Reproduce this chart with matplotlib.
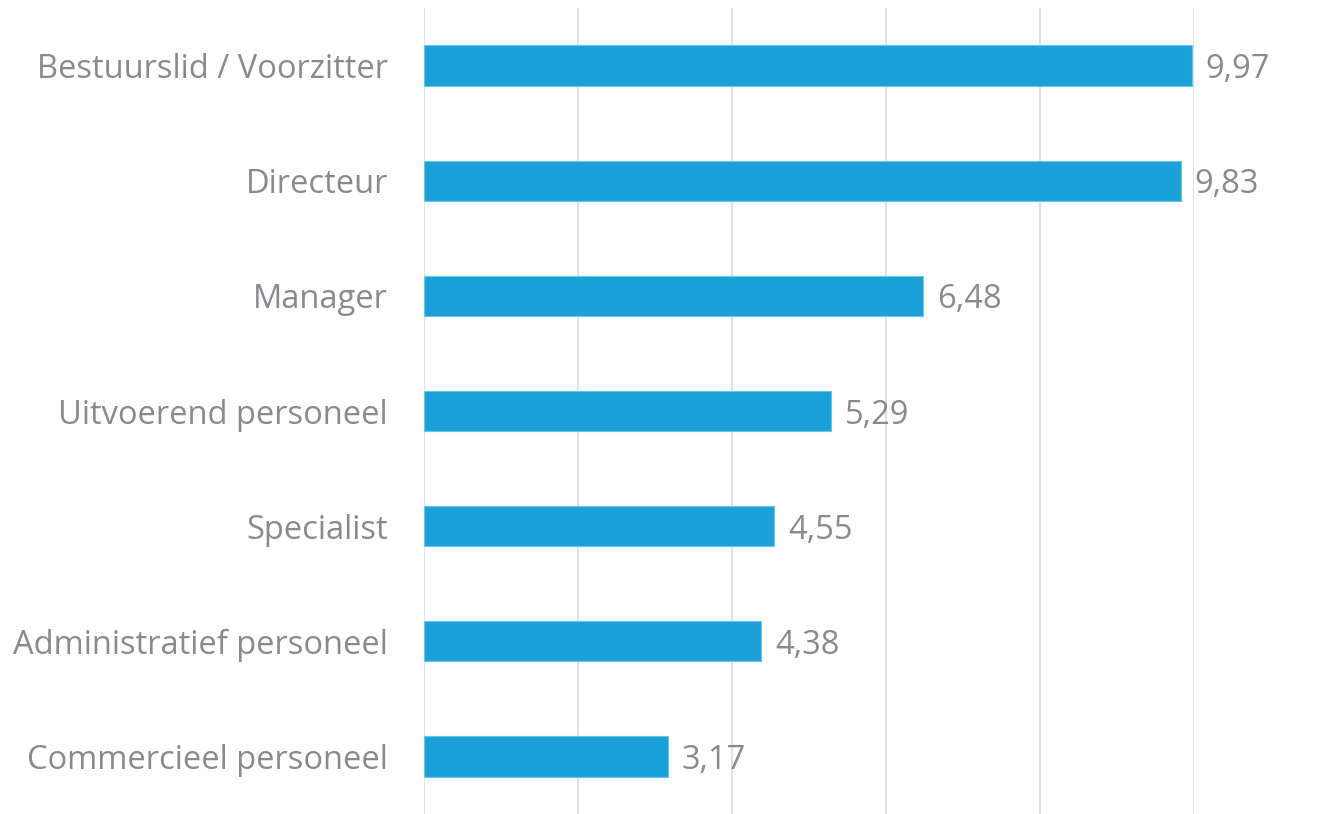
import matplotlib.pyplot as plt

# data, top to bottom
functies = ["Bestuurslid / Voorzitter", "Directeur", "Manager", "Uitvoerend personeel",
            "Specialist", "Administratief personeel", "Commercieel personeel"]
waarden = [9.97, 9.83, 6.48, 5.29, 4.55, 4.38, 3.17]

plt.rcParams['font.family'] = ['Open Sans', 'DejaVu Sans']
grijs = "#8a8a8e"

fig = plt.figure(figsize=(13.34, 8.14), dpi=100)
ax = fig.add_axes([424 / 1334, 0, 770 / 1334, 806 / 814])

posities = list(range(len(functies)))[::-1]
ax.barh(posities, waarden, height=0.35, color="#1aa1d8", edgecolor="#6cc6ec",
        linewidth=0.8, zorder=3)

for p, w in zip(posities, waarden):
    ax.text(w + 0.18, p, f"{w:.2f}".replace(".", ","), va="center_baseline", ha="left",
            fontsize=23.5, color=grijs)

ax.set_xlim(0, 10)
ax.set_ylim(-0.5, 6.5)
ax.set_xticks([0, 2, 4, 6, 8, 10])
ax.set_xticklabels([])
ax.set_yticks(posities)
ax.set_yticklabels(functies, fontsize=23.5, color=grijs, va="center_baseline")
ax.tick_params(axis="both", length=0)
ax.tick_params(axis="y", pad=26)
ax.grid(axis="x", color="#e2e2e2", linewidth=1.5, zorder=0)
for s in ax.spines.values():
    s.set_visible(False)

fig.savefig("out.png", dpi=100)
